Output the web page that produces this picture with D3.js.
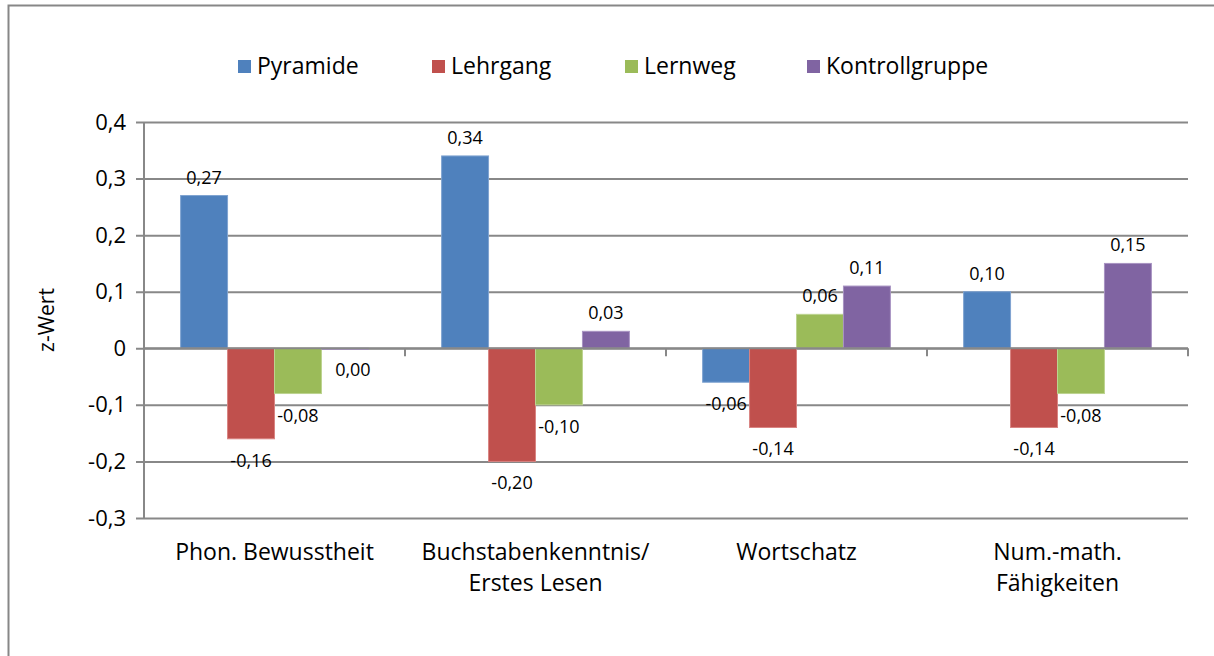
<!DOCTYPE html>
<html>
<head>
<meta charset="utf-8">
<script src="https://cdn.jsdelivr.net/npm/d3@7"></script>
<style>
    body { margin: 0; background: #fff; }
    svg { display: block; font-family: "Open Sans", sans-serif; }
</style>
</head>
<body>
<div id="chart"></div>
<script>
//Datos
const categories = [['Phon. Bewusstheit'], ['Buchstabenkenntnis/', 'Erstes Lesen'], ['Wortschatz'], ['Num.-math.', 'Fähigkeiten']];
const seriesNames = ['Pyramide', 'Lehrgang', 'Lernweg', 'Kontrollgruppe'];
const pyramide = [0.27, 0.34, -0.06, 0.10];
const lehrgang = [-0.16, -0.20, -0.14, -0.14];
const lernweg = [-0.08, -0.10, 0.06, -0.08];
const kontrollgruppe = [0.00, 0.03, 0.11, 0.15];
const yTicks = [-0.3, -0.2, -0.1, 0, 0.1, 0.2, 0.3, 0.4];

//Colores fijos
const COLORS = ['#4F81BD', '#C0504D', '#9BBB59', '#8064A2'];
const STROKES = ['#7FA3D1', '#D98482', '#BCD38F', '#A893C2'];
const GRID = '#888888';

const values = [pyramide, lehrgang, lernweg, kontrollgruppe];
const fmt = function(v) { return v.toFixed(2).replace('.', ','); };

let width = 1214, height = 656;
let margin = {top: 122, right: 26, bottom: 138, left: 144};
let innerW = width - margin.left - margin.right,
    innerH = height - margin.top - margin.bottom;

let svg = d3.select('#chart')
    .append('svg')
    .attr('width', width)
    .attr('height', height);

//Marco
svg.append('rect')
    .attr('x', 8.5).attr('y', 5.5)
    .attr('width', 1240).attr('height', 700)
    .attr('fill', 'none')
    .attr('stroke', '#878787')
    .attr('stroke-width', 2);

let g = svg.append('g')
    .attr('transform', 'translate(' + margin.left + ',' + margin.top + ')');

let y = d3.scaleLinear()
    .domain([-0.3, 0.4])
    .range([innerH, 0]);

let x0 = d3.scaleBand()
    .domain(d3.range(categories.length))
    .range([0, innerW]);

let x1 = d3.scaleBand()
    .domain(d3.range(seriesNames.length))
    .range([0, x0.bandwidth()])
    .paddingOuter(0.78);

//Eje Y con líneas de cuadrícula
let yAxis = g.append('g')
    .call(d3.axisLeft(y).tickValues(yTicks).tickSize(-innerW).tickPadding(18)
        .tickFormat(function(d) { return d === 0 ? '0' : d.toFixed(1).replace('.', ','); }));
yAxis.select('.domain').remove();
yAxis.selectAll('.tick line')
    .attr('x1', -8)
    .attr('stroke', GRID)
    .attr('stroke-width', 2);
yAxis.selectAll('.tick text')
    .attr('fill', '#000')
    .style('font-size', '22px')
    .style('font-family', '"Open Sans", sans-serif');

//Línea vertical del eje
g.append('line')
    .attr('x1', 0).attr('x2', 0)
    .attr('y1', 0).attr('y2', innerH)
    .attr('stroke', GRID)
    .attr('stroke-width', 2);

//Barras
seriesNames.forEach(function(name, s) {
    g.selectAll('.bar-' + s)
        .data(values[s])
        .enter()
        .append('rect')
        .attr('class', 'bar-' + s)
        .attr('x', function(d, i) { return x0(i) + x1(s); })
        .attr('y', function(d) { return y(Math.max(0, d)); })
        .attr('width', x1.bandwidth())
        .attr('height', function(d) { return Math.max(1, Math.abs(y(d) - y(0))); })
        .attr('fill', COLORS[s])
        .attr('stroke', STROKES[s])
        .attr('stroke-width', 1);
});

//Eje X en el cero
let xTicks = d3.range(categories.length + 1).map(function(i) { return i * x0.step(); });
g.append('line')
    .attr('x1', 0).attr('x2', innerW)
    .attr('y1', y(0)).attr('y2', y(0))
    .attr('stroke', GRID)
    .attr('stroke-width', 2);
g.selectAll('.xtick')
    .data(xTicks)
    .enter()
    .append('line')
    .attr('x1', function(d) { return d; })
    .attr('x2', function(d) { return d; })
    .attr('y1', y(0))
    .attr('y2', y(0) + 8)
    .attr('stroke', GRID)
    .attr('stroke-width', 2);

//Etiquetas de datos
seriesNames.forEach(function(name, s) {
    g.selectAll('.lbl-' + s)
        .data(values[s])
        .enter()
        .append('text')
        .attr('x', function(d, i) { return x0(i) + x1(s) + x1.bandwidth() / 2 + (d === 0 ? 8 : 0); })
        .attr('y', function(d) { return d > 0 ? y(d) - 12 : y(d) + 28; })
        .attr('text-anchor', 'middle')
        .style('font-size', '18px')
        .text(function(d) { return fmt(d); });
});

//Etiquetas de categorías
let cat = g.selectAll('.cat')
    .data(categories)
    .enter()
    .append('text')
    .attr('text-anchor', 'middle')
    .attr('x', function(d, i) { return x0(i) + x0.bandwidth() / 2; })
    .attr('y', innerH + 42)
    .style('font-size', '23px');
cat.each(function(lines) {
    let t = d3.select(this);
    lines.forEach(function(l, k) {
        t.append('tspan')
            .attr('x', t.attr('x'))
            .attr('dy', k === 0 ? 0 : 31)
            .text(l);
    });
});

//Título eje Y
svg.append('text')
    .attr('transform', 'translate(54,' + (margin.top + innerH / 2) + ') rotate(-90)')
    .attr('text-anchor', 'middle')
    .style('font-size', '21px')
    .text('z-Wert');

//Leyenda
let legendX = [238, 432, 625, 807];
let legend = svg.selectAll('.legend')
    .data(seriesNames)
    .enter()
    .append('g')
    .attr('transform', function(d, i) { return 'translate(' + legendX[i] + ',60)'; });
legend.append('rect')
    .attr('width', 13).attr('height', 13)
    .attr('fill', function(d, i) { return COLORS[i]; });
legend.append('text')
    .attr('x', 19)
    .attr('y', 14)
    .style('font-size', '23px')
    .text(function(d) { return d; });
</script>
</body>
</html>
